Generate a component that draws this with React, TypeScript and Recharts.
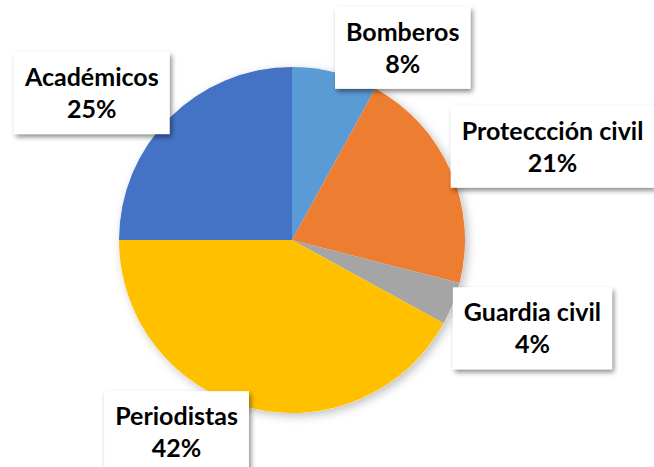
import { PieChart, Pie, Cell } from "recharts";

const categories = ["Bomberos", "Proteccción civil", "Guardia civil", "Periodistas", "Académicos"];
const shares = [8, 21, 4, 42, 25];
const colors = ["#5B9BD5", "#ED7D31", "#A5A5A5", "#FFC000", "#4472C4"];

const data = categories.map((name, i) => ({ name, value: shares[i] }));

const FONT = "bold 25px Lato";
let ctx: CanvasRenderingContext2D | null = null;
const textWidth = (t: string) => {
  if (!ctx) ctx = document.createElement("canvas").getContext("2d");
  if (!ctx) return t.length * 12;
  ctx.font = FONT;
  return ctx.measureText(t).width;
};

// Excel-like callout: box corner sits on the rim, box pushed outward
const renderLabel = (props: any) => {
  const { cx, cy, midAngle, outerRadius, name, value } = props;
  const rad = (midAngle * Math.PI) / 180;
  const ux = Math.cos(rad);
  const uy = -Math.sin(rad);
  const px = cx + outerRadius * ux;
  const py = cy + outerRadius * uy;
  const pct = `${value}%`;
  const w = Math.max(textWidth(name), textWidth(pct)) + 22;
  const h = 82;
  const bx = px + Math.sign(ux) * (w / 2);
  const by = py + Math.sign(uy) * (h / 2) * 0.6;
  return (
    <g>
      <rect x={bx - w / 2} y={by - h / 2} width={w} height={h} fill="#fff" filter="url(#boxShadow)" />
      <text x={bx} y={by - 16 + 9} textAnchor="middle" fontFamily="Lato" fontWeight="bold" fontSize={25} fill="#000">
        {name}
      </text>
      <text x={bx} y={by + 16 + 9} textAnchor="middle" fontFamily="Lato" fontWeight="bold" fontSize={25} fill="#000">
        {pct}
      </text>
    </g>
  );
};

export default function App() {
  return (
    <div style={{ width: 654, height: 467, background: "#fff" }}>
      <style>{"body{margin:0}"}</style>
      <PieChart width={654} height={467} margin={{ top: 0, right: 0, bottom: 0, left: 0 }}>
        <defs>
          <filter id="boxShadow" x="-20%" y="-20%" width="140%" height="150%">
            <feDropShadow dx="2" dy="3" stdDeviation="2.5" floodColor="#000" floodOpacity="0.45" />
          </filter>
          <filter id="pieShadow" x="-20%" y="-20%" width="140%" height="140%">
            <feDropShadow dx="3" dy="3" stdDeviation="5" floodColor="#000" floodOpacity="0.25" />
          </filter>
        </defs>
        <Pie
          data={data}
          dataKey="value"
          cx={292}
          cy={240}
          outerRadius={173}
          startAngle={90}
          endAngle={-270}
          stroke="none"
          isAnimationActive={false}
        >
          {data.map((d) => (
            <Cell key={`bg-${d.name}`} fill="#fff" filter="url(#pieShadow)" />
          ))}
        </Pie>
        <Pie
          data={data}
          dataKey="value"
          nameKey="name"
          cx={292}
          cy={240}
          outerRadius={173}
          startAngle={90}
          endAngle={-270}
          stroke="none"
          label={renderLabel}
          labelLine={false}
          isAnimationActive={false}
        >
          {data.map((d, i) => (
            <Cell key={d.name} fill={colors[i]} />
          ))}
        </Pie>
      </PieChart>
    </div>
  );
}
